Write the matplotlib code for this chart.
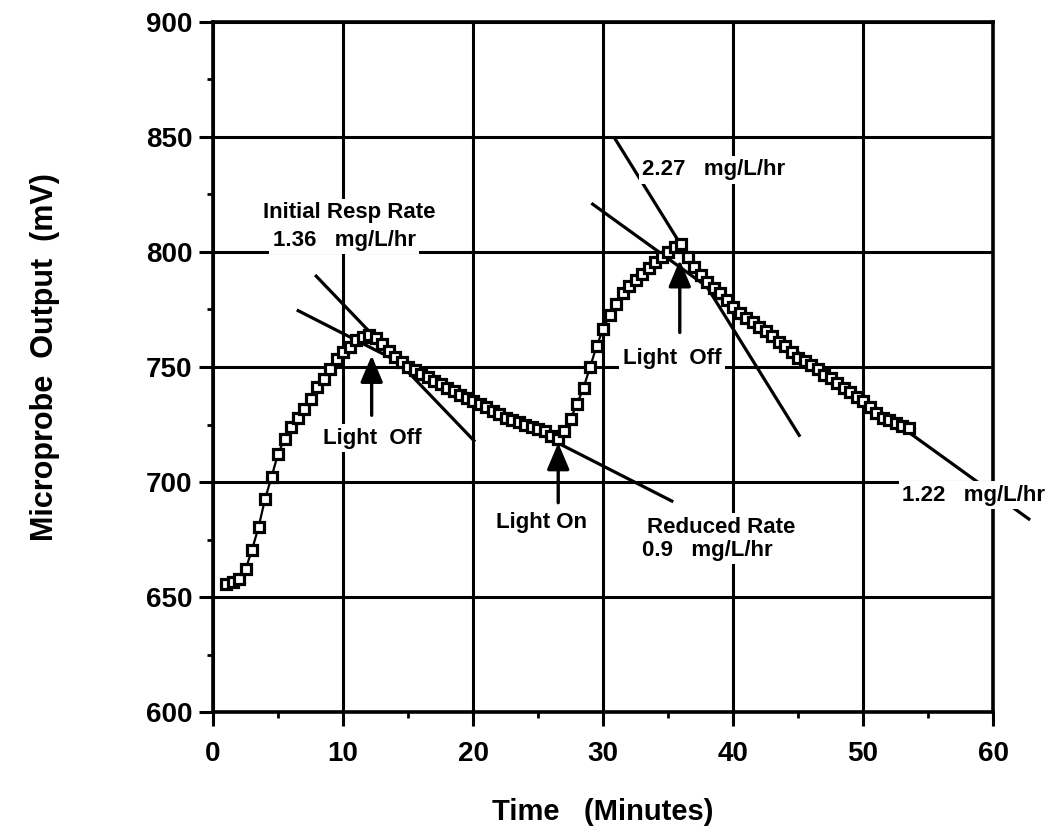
import matplotlib
matplotlib.use("Agg")
import matplotlib.pyplot as plt
from matplotlib.ticker import MultipleLocator

# Microprobe output sampled every 0.5 min (light on / off cycles)
time_min = [
    1.0, 1.5, 2.0, 2.5, 3.0, 3.5, 4.0, 4.5, 5.0, 5.5, 6.0, 6.5, 7.0, 7.5, 8.0, 8.5,
    9.0, 9.5, 10.0, 10.5, 11.0, 11.5, 12.0,
    12.5, 13.0, 13.5, 14.0, 14.5, 15.0, 15.5, 16.0, 16.5, 17.0, 17.5, 18.0, 18.5,
    19.0, 19.5, 20.0, 20.5, 21.0, 21.5, 22.0, 22.5, 23.0, 23.5, 24.0, 24.5, 25.0,
    25.5, 26.0, 26.5,
    27.0, 27.5, 28.0, 28.5, 29.0, 29.5, 30.0, 30.5, 31.0, 31.5, 32.0, 32.5, 33.0,
    33.5, 34.0, 34.5, 35.0, 35.5, 36.0,
    36.5, 37.0, 37.5, 38.0, 38.5, 39.0, 39.5, 40.0, 40.5, 41.0, 41.5, 42.0, 42.5,
    43.0, 43.5, 44.0, 44.5, 45.0, 45.5, 46.0, 46.5, 47.0, 47.5, 48.0, 48.5, 49.0,
    49.5, 50.0, 50.5, 51.0, 51.5, 52.0, 52.5, 53.0, 53.5,
]
output_mv = [
    655.8, 656.5, 657.8, 662.0, 670.6, 680.4, 692.6, 702.2, 712.3, 718.6, 723.9,
    728.0, 731.9, 736.2, 741.3, 744.9, 749.0, 753.4, 756.5, 758.7, 761.7, 763.0, 763.9,
    762.5, 760.0, 757.0, 754.5, 752.0, 750.0, 748.5, 747.0, 745.5, 744.0, 742.5,
    741.0, 739.5, 738.0, 736.5, 735.0, 734.0, 732.5, 731.0, 729.5, 728.0, 727.0,
    726.0, 725.0, 724.0, 723.0, 722.0, 720.0, 718.5,
    722.0, 727.5, 734.0, 741.0, 750.0, 759.0, 766.5, 772.5, 777.5, 782.0, 785.0,
    788.0, 790.5, 793.0, 795.5, 798.0, 800.0, 802.0, 803.5,
    798.0, 793.5, 790.0, 787.0, 784.5, 782.0, 779.0, 776.0, 773.5, 771.5, 769.5,
    767.5, 765.5, 763.5, 761.0, 759.0, 756.5, 754.0, 752.5, 751.0, 749.0, 746.5,
    745.0, 743.0, 741.0, 739.0, 737.0, 735.0, 732.5, 730.0, 728.0, 727.0, 725.5,
    724.5, 723.5,
]

# Hand-fitted respiration rate lines: (t_start, mV_start, t_end, mV_end)
fit_initial = (7.85, 790.0, 20.15, 717.5)    # 1.36 mg/L/hr
fit_reduced = (6.44, 774.8, 35.4, 691.4)     # 0.9 mg/L/hr
fit_second = (30.9, 849.4, 45.15, 719.7)     # 2.27 mg/L/hr
fit_late = (29.1, 821.2, 62.85, 683.5)       # 1.22 mg/L/hr

# Light switching events (time, mV at arrow tip, mV at arrow tail)
light_off_1 = (12.2, 755.0, 729.0)
light_on = (26.55, 717.0, 691.0)
light_off_2 = (35.9, 796.5, 765.0)

x_ticks = [0, 10, 20, 30, 40, 50, 60]
y_ticks = [600, 650, 700, 750, 800, 850, 900]

FONT = "Liberation Sans"
plt.rcParams["font.family"] = [FONT, "DejaVu Sans"]

fig = plt.figure(figsize=(10.61, 8.32), dpi=100)
ax = fig.add_axes([0.2008, 0.1442, 0.7352, 0.8294])

ax.set_xlim(0, 60)
ax.set_ylim(600, 900)
ax.set_xticks(x_ticks)
ax.set_yticks(y_ticks)
ax.xaxis.set_minor_locator(MultipleLocator(5))
ax.yaxis.set_minor_locator(MultipleLocator(25))
ax.set_xticklabels([str(v) for v in x_ticks], fontsize=20, fontweight="bold")
ax.set_yticklabels([str(v) for v in y_ticks], fontsize=20, fontweight="bold")
ax.tick_params(axis="both", which="major", direction="out", length=10, width=2.2, color="black")
ax.tick_params(axis="x", which="major", pad=11)
ax.tick_params(axis="y", which="major", pad=5)
ax.tick_params(axis="both", which="minor", direction="out", length=4, width=2.0, color="black")

for sp in ax.spines.values():
    sp.set_linewidth(2.6)
    sp.set_color("black")

ax.grid(True, which="major", color="black", linewidth=2.2, zorder=0)
ax.set_axisbelow(True)

# Rate fit lines
for seg in (fit_initial, fit_reduced, fit_second):
    ax.plot([seg[0], seg[2]], [seg[1], seg[3]], color="black", lw=2.3, zorder=2,
            solid_capstyle="butt")
ax.plot([fit_late[0], fit_late[2]], [fit_late[1], fit_late[3]], color="black", lw=2.3,
        zorder=2, clip_on=False, solid_capstyle="butt")

# Measured trace
ax.plot(time_min, output_mv, color="black", lw=1.6, zorder=3)
ax.plot(time_min, output_mv, linestyle="none", marker="s", markersize=7.8,
        markerfacecolor="white", markeredgecolor="black", markeredgewidth=2.3, zorder=4)

# Light switching arrows
arrow_kw = dict(arrowstyle="-|>,head_length=0.9,head_width=0.38", mutation_scale=18,
                lw=2.4, color="black", shrinkA=0, shrinkB=0)
for t, tip, tail in (light_off_1, light_on, light_off_2):
    ax.annotate("", xy=(t, tip), xytext=(t, tail), arrowprops=arrow_kw, zorder=5)

box = dict(facecolor="white", edgecolor="none", pad=2.5)
tkw = dict(fontsize=16, fontweight="bold", color="black", zorder=6, bbox=box)

ax.text(10.46, 817.0, "Initial Resp Rate", ha="center", va="center", **tkw)
ax.text(4.6, 805.2, "1.36   mg/L/hr", ha="left", va="center", **tkw)
ax.text(12.23, 719.1, "Light  Off", ha="center", va="center", **tkw)
ax.text(25.3, 682.2, "Light On", ha="center", va="center", **tkw)
ax.text(33.4, 680.4, "Reduced Rate", ha="left", va="center", **tkw)
ax.text(33.0, 670.4, "0.9   mg/L/hr", ha="left", va="center", **tkw)
ax.text(35.3, 753.5, "Light  Off", ha="center", va="center", **tkw)
ax.text(33.0, 835.7, "2.27   mg/L/hr", ha="left", va="center", **tkw)
ax.text(53.0, 694.3, "1.22   mg/L/hr", ha="left", va="center", clip_on=False, **tkw)

ax.set_xlabel("Time   (Minutes)", fontsize=21, fontweight="bold")
ax.set_ylabel("Microprobe  Output  (mV)", fontsize=22, fontweight="bold")
ax.xaxis.set_label_coords(0.5, -0.145)
ax.yaxis.set_label_coords(-0.215, 0.514)
ax.xaxis.label.set_va("center")
ax.yaxis.label.set_va("center")

fig.savefig("out.png", dpi=100, facecolor="white")
